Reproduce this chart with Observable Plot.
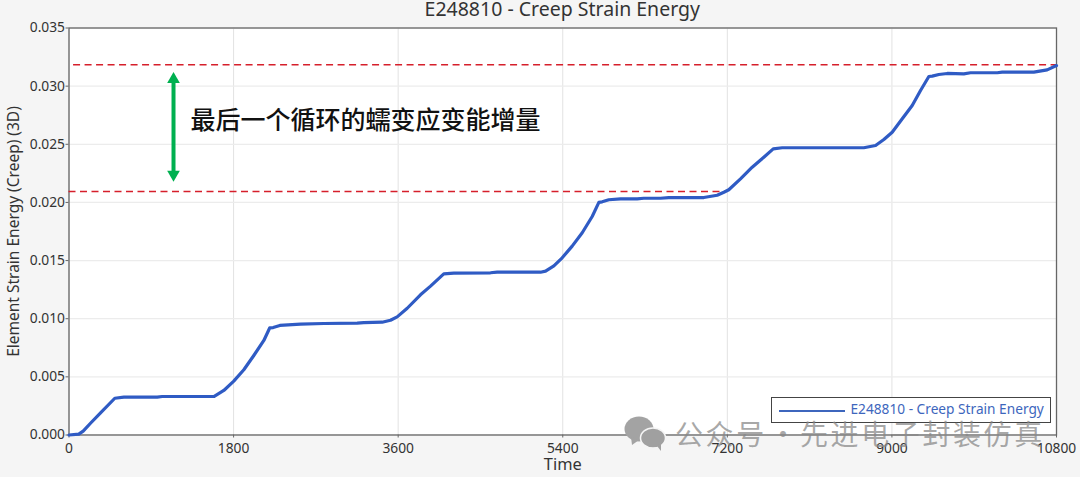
<!DOCTYPE html>
<html lang="zh">
<head>
<meta charset="utf-8">
<script src="https://cdn.jsdelivr.net/npm/d3@7"></script>
<script src="https://cdn.jsdelivr.net/npm/@observablehq/plot@0.6"></script>
<style>
html,body{margin:0;padding:0;background:#f5f5f5;overflow:hidden}
#wrap{position:relative;width:1080px;height:477px;font-family:"Noto Sans",sans-serif}
#legend{position:absolute;left:770.5px;top:397.3px;width:278px;height:24px;border:1px solid #444;background:#fff;color:#3d66bd;font-size:13.7px;line-height:24px;white-space:nowrap}
#legend i{position:absolute;left:7px;top:11.5px;width:66px;height:2px;background:#3d66bd}
#legend span{position:absolute;left:79px;top:-1px}
#mark{position:absolute;left:624px;top:414px;color:rgba(135,135,135,.72);font:400 28px "Noto Sans CJK SC";white-space:nowrap;line-height:38px;height:38px}
#mark svg{position:absolute;left:0;top:1px}
#mark span{position:absolute;top:0;letter-spacing:2.6px}
</style>
</head>
<body>
<div id="wrap">
<div id="chart"></div>
<div id="legend"><i></i><span>E248810 - Creep Strain Energy</span></div>
<div id="mark"><svg width="44" height="38" viewBox="0 0 44 38"><ellipse cx="15" cy="14" rx="14.500" ry="12.500" fill="#a3a3a3"/><path d="M7 22l1 8 7-5z" fill="#a3a3a3"/><ellipse cx="29" cy="23" rx="12.500" ry="10" fill="#a0a0a0" stroke="#f5f5f5" stroke-width="1.500"/><path d="M33 31l4 5 0-8z" fill="#a0a0a0"/></svg><span style="left:51px">公众号</span><span style="left:145px">·</span><span style="left:176px">先进电子封装仿真</span></div>
</div>
<script>
const times = [0,107,155,235,345,501,600,965,1019,1584,1693,1802,1912,2021,2131,2196,2233,2306,2532,2787,3152,3224,3425,3516,3589,3699,3844,3954,4099,4209,4610,4683,5157,5212,5303,5394,5503,5613,5722,5795,5831,5904,6032,6214,6287,6469,6560,6943,7089,7162,7216,7344,7472,7599,7702,7800,8693,8821,8912,9003,9113,9222,9313,9404,9441,9513,9605,9786,9860,10152,10206,10552,10698,10800];
const energy = [0,0.00007,0.00033,0.00101,0.00191,0.00316,0.00325,0.00325,0.00331,0.00331,0.00383,0.00463,0.00561,0.00684,0.00813,0.00922,0.00924,0.00942,0.00953,0.00959,0.00962,0.00967,0.0097,0.00987,0.01016,0.0109,0.01206,0.0128,0.01386,0.01392,0.01395,0.014,0.014,0.01409,0.01455,0.01524,0.01624,0.01739,0.01879,0.02,0.02005,0.02023,0.02031,0.02031,0.02036,0.02036,0.02042,0.02042,0.02062,0.02088,0.02109,0.02203,0.02303,0.02389,0.02461,0.0247,0.0247,0.0249,0.02541,0.02604,0.02719,0.02834,0.02963,0.03083,0.03086,0.031,0.03109,0.03106,0.03115,0.03115,0.0312,0.0312,0.0314,0.03177];
const xTicks = [0,1800,3600,5400,7200,9000,10800];
const yTicks = [0,0.005,0.010,0.015,0.020,0.025,0.030,0.035];
const refUpper = {y:0.03185, x1:50, x2:10800};
const refLower = {y:0.02095, x1:0, x2:7180};
const arrowTime = 1143;
const arrowEnds = [0.02176,0.03123];
const titleText = "E248810 - Creep Strain Energy";
const xLabel = "Time";
const yLabel = "Element Strain Energy (Creep) (3D)";
const note = "最后一个循环的蠕变应变能增量";
const noteAt = {x:1329,y:0.02696};
const curve = times.map((t,i)=>({t,e:energy[i]}));
const refs = [refUpper,refLower];

const plot = Plot.plot({
  width:1080,height:477,
  marginLeft:68.5,marginRight:24,marginTop:27.5,marginBottom:42.5,
  style:{background:"#f5f5f5",fontFamily:"'Noto Sans',sans-serif",color:"#333",overflow:"hidden"},
  x:{domain:[0,10800],axis:null},
  y:{domain:[0,0.035],axis:null},
  marks:[
    Plot.frame({fill:"#fff",stroke:null}),
    Plot.gridX(xTicks,{stroke:"#e2e2e2",strokeOpacity:1}),
    Plot.gridY(yTicks,{stroke:"#ececec",strokeOpacity:1,strokeWidth:1.300}),
    Plot.frame({stroke:"#666",strokeWidth:1.300}),
    Plot.axisX(xTicks,{tickSize:3,tickPadding:5,fontSize:13.800,stroke:"#666",tickFormat:d=>String(d),label:null}),
    Plot.axisY(yTicks,{tickSize:3,tickPadding:1,fontSize:13.800,stroke:"#666",tickFormat:d3.format(".3f"),label:null}),
    Plot.ruleY(refs,{y:"y",x1:"x1",x2:"x2",stroke:"#d61f2b",strokeWidth:1.500,strokeDasharray:"7,4.500"}),
    Plot.line(curve,{x:"t",y:"e",stroke:"#2f5bc4",strokeWidth:3.200,strokeLinejoin:"round"}),
    Plot.ruleX([arrowTime],{y1:arrowEnds[1],y2:arrowEnds[0],stroke:"#00b050",strokeWidth:4,insetTop:8,insetBottom:8}),
    Plot.dot([arrowEnds[1]],{x:()=>arrowTime,y:d=>d,symbol:"triangle",r:4.700,fill:"#00b050",stroke:null,dy:7.500}),
    Plot.dot([arrowEnds[0]],{x:()=>arrowTime,y:d=>d,symbol:"triangle",r:4.700,fill:"#00b050",stroke:null,dy:-7.500,rotate:180}),
    Plot.text([note],{x:()=>noteAt.x,y:()=>noteAt.y,text:d=>d,textAnchor:"start",fontSize:25,fontWeight:500,fill:"#111",fontFamily:"'Noto Sans CJK SC'"}),
    Plot.text([titleText],{frameAnchor:"top",text:d=>d,dy:-18,dx:-0.500,fontSize:19.500,fill:"#333",lineAnchor:"middle"}),
    Plot.text([xLabel],{frameAnchor:"bottom",text:d=>d,dy:30,fontSize:16.400,fill:"#333",lineAnchor:"middle"}),
    Plot.text([yLabel],{frameAnchor:"left",text:d=>d,dx:-55,rotate:-90,fontSize:15.500,fill:"#333",lineAnchor:"middle",textAnchor:"middle"})
  ]
});
document.getElementById("chart").appendChild(plot);
</script>
</body>
</html>
